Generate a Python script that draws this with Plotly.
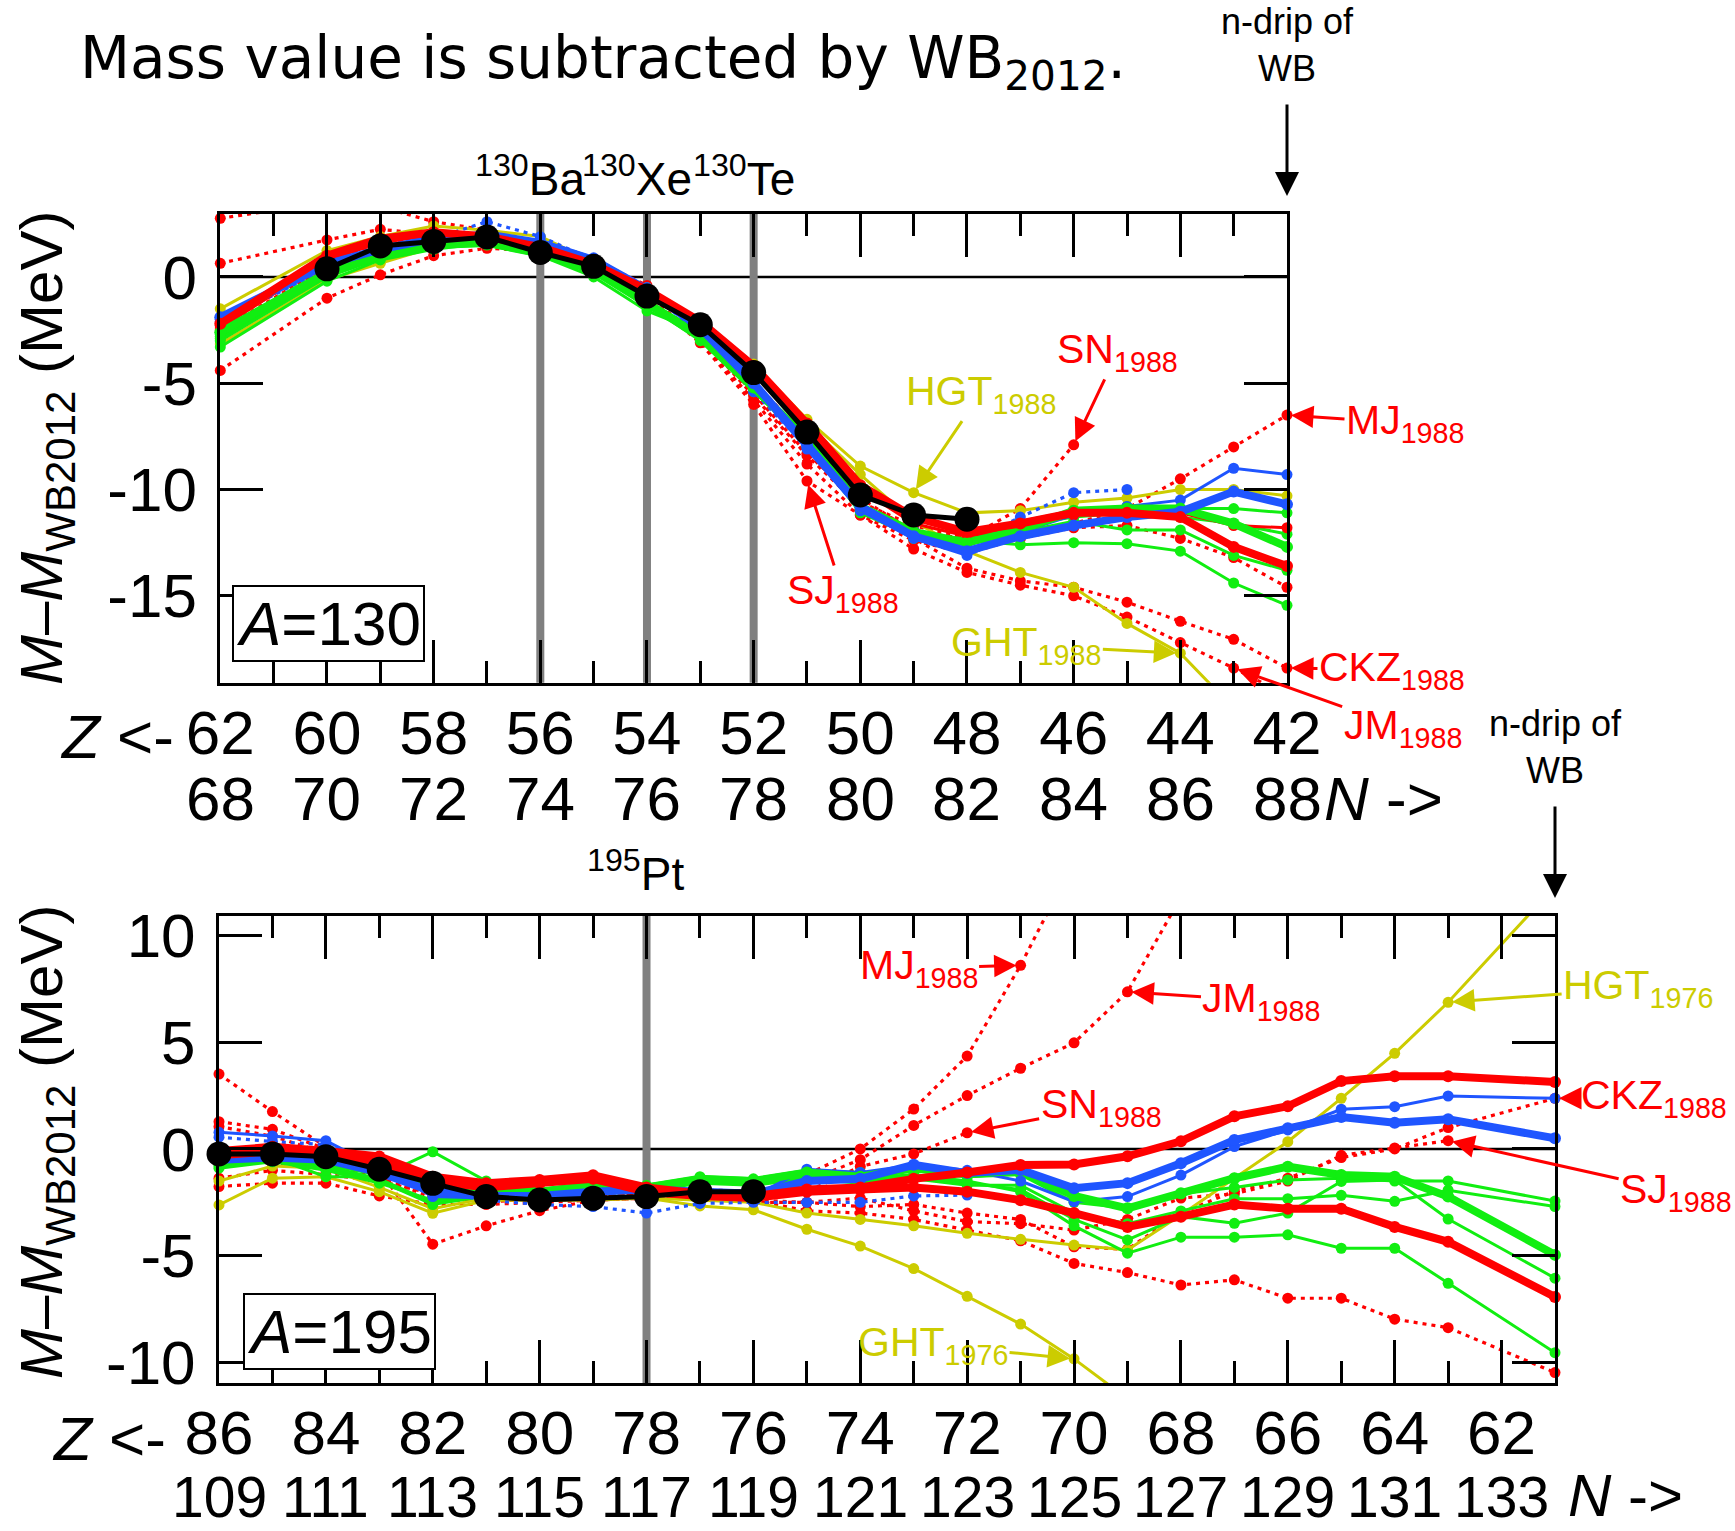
import plotly.graph_objects as go

FONT = "Liberation Sans, Arial, Helvetica, sans-serif"
TFONT = "DejaVu Sans, Liberation Sans, sans-serif"
RED = "#ff0000"
BLUE = "#1f55ff"
GREEN = "#11ee11"
YEL = "#cccc00"
GRAY = "#808080"

# ---------------- A = 130 (x = proton number Z) ----------------
Z130 = [62, 60, 59, 58, 57, 56, 55, 54, 53, 52, 51, 50, 49, 48, 47, 46, 45, 44, 43, 42]
Z130_TICKS = [62, 60, 58, 56, 54, 52, 50, 48, 46, 44, 42]
Z130_LABELS = ["62", "60", "58", "56", "54", "52", "50", "48", "46", "44", "42"]
N130_LABELS = ["68", "70", "72", "74", "76", "78", "80", "82", "84", "86", "88"]
Y130_TICKS = [-15, -10, -5, 0]
Y130_LABELS = ["-15", "-10", "-5", "0"]
Z130_MARKED = [56, 54, 52]
MARKED130_NAMES = ["Ba", "Xe", "Te"]

a130_exp = [None, 0.38, 1.46, 1.67, 1.88, 1.15, 0.5, -0.9, -2.25, -4.5, -7.3, -10.26, -11.2, -11.4, None, None, None, None, None, None]
a130_red_thick = [-2.2, 1.0, 1.8, 2.1, 1.9, 1.4, 0.6, -0.6, -2.1, -4.2, -6.9, -9.8, -11.3, -12.0, -11.6, -11.1, -11.1, -11.3, -12.7, -13.6]
a130_red_thin = [-2.4, 0.8, 1.6, 2.0, 1.9, 1.3, 0.6, -0.8, -2.3, -4.4, -7.0, -10.0, -11.6, -12.2, -11.8, -11.2, -11.0, -11.1, -11.7, -11.8]
a130_blue_thick = [-1.9, 0.6, 1.3, 1.8, 2.0, 1.6, 0.8, -0.6, -2.4, -5.0, -7.9, -10.8, -12.2, -12.9, -12.2, -11.7, -11.3, -11.05, -10.1, -10.7]
a130_blue_thin = [-2.0, 0.5, 1.2, 1.7, 2.0, 1.7, 0.9, -0.5, -2.3, -5.2, -8.1, -11.0, -12.3, -13.1, -12.0, -11.2, -10.8, -10.5, -9.0, -9.3]
a130_blue_dot = [-2.1, 0.4, 1.0, 1.8, 2.6, 1.9, 0.8, -0.7, -2.6, -5.4, -8.0, -10.7, -11.9, -12.5, -11.3, -10.15, -10.0, None, None, None]
a130_green_thick = [-2.6, 0.2, 1.0, 1.5, 1.6, 1.1, 0.3, -1.2, -2.8, -5.2, -7.6, -10.8, -12.0, -12.5, -11.9, -11.0, -10.9, -10.9, -11.6, -12.7]
a130_green_a = [-2.8, 0.0, 0.9, 1.4, 1.5, 1.0, 0.0, -1.6, -2.6, -5.0, -7.8, -11.1, -12.2, -12.3, -11.5, -11.0, -10.8, -10.9, -10.9, -11.1]
a130_green_b = [-3.3, -0.2, 0.8, 1.3, 1.6, 1.2, 0.2, -1.3, -3.0, -5.4, -7.7, -11.0, -12.1, -12.4, -11.7, -11.3, -11.1, -11.3, -11.6, -12.1]
a130_green_c = [-2.9, 0.1, 1.1, 1.5, 1.7, 1.2, 0.4, -1.1, -2.6, -5.1, -8.0, -10.9, -12.3, -12.6, -12.0, -11.5, -11.9, -11.9, -13.1, -13.8]
a130_green_d = [-3.0, 0.0, 0.9, 1.4, 1.6, 1.0, 0.3, -1.4, -2.7, -5.3, -7.9, -10.7, -12.1, -12.4, -12.6, -12.5, -12.55, -12.9, -14.4, -15.45]
a130_hgt1988 = [-1.5, 1.24, 1.9, 2.4, 2.2, 1.9, 0.7, -0.5, -2.2, -4.1, -6.7, -8.9, -10.15, -11.1, -11.0, -10.6, -10.4, -10.0, -10.0, -10.3]
a130_ght1988 = [-3.15, -0.14, 0.64, 1.4, 1.7, 1.7, 0.6, -0.8, -2.4, -4.5, -6.9, -9.3, -11.5, -12.9, -13.9, -14.6, -16.3, -17.7, -20.3, None]
a130_mj1988 = [2.76, 3.5, 3.3, 2.6, 2.2, 1.6, 0.8, -0.4, -2.6, -5.5, -8.3, -10.6, -11.7, -12.3, -12.0, -11.6, -10.9, -9.5, -8.0, -6.5]
a130_ckz1988 = [0.64, 1.74, 2.24, 2.0, 1.8, 1.3, 0.5, -0.9, -2.8, -5.6, -8.4, -10.8, -12.3, -13.7, -14.3, -14.6, -15.3, -16.2, -17.05, -18.4]
a130_jm1988 = [-4.4, -1.0, 0.1, 1.0, 1.35, 1.2, 0.3, -1.0, -3.0, -5.8, -8.8, -11.2, -12.8, -13.9, -14.5, -15.0, -16.0, -17.2, -18.4, -19.7]
a130_sn1988 = [-2.5, 0.5, 1.4, 1.9, 2.0, 1.4, 0.5, -0.8, -2.4, -4.9, -7.6, -10.4, -12.0, -12.3, -10.9, -7.9, None, None, None, None]
a130_sj1988 = [-2.3, 0.7, 1.5, 1.9, 1.8, 1.2, 0.4, -1.0, -3.1, -6.0, -9.6, -11.2, -12.4, -13.0, -12.3, -11.8, -11.7, -12.3, -13.2, -14.6]

# ---------------- A = 195 ----------------
Z195 = [86, 85, 84, 83, 82, 81, 80, 79, 78, 77, 76, 75, 74, 73, 72, 71, 70, 69, 68, 67, 66, 65, 64, 63, 61]
Z195_TICKS = [86, 84, 82, 80, 78, 76, 74, 72, 70, 68, 66, 64, 62]
Z195_LABELS = ["86", "84", "82", "80", "78", "76", "74", "72", "70", "68", "66", "64", "62"]
N195_LABELS = ["109", "111", "113", "115", "117", "119", "121", "123", "125", "127", "129", "131", "133"]
Y195_TICKS = [-10, -5, 0, 5, 10]
Y195_LABELS = ["-10", "-5", "0", "5", "10"]
Z195_MARKED = [78]
MARKED195_NAMES = ["Pt"]

a195_exp = [-0.23, -0.23, -0.36, -0.95, -1.61, -2.23, -2.39, -2.31, -2.23, -2.0, -2.0] + [None] * 14
a195_red_thick_up = [-0.1, 0.1, -0.1, -0.35, -1.3, -1.6, -1.45, -1.23, -1.8, -2.1, -2.2, -1.9, -1.8, -1.4, -1.1, -0.75, -0.73, -0.34, 0.36, 1.53, 2.0, 3.18, 3.4, 3.4, 3.14]
a195_red_thick_lo = [-0.3, -0.1, -0.3, -0.6, -1.5, -1.8, -1.6, -1.4, -2.0, -2.2, -2.3, -2.0, -1.9, -1.8, -2.0, -2.4, -3.0, -3.65, -3.17, -2.6, -2.8, -2.8, -3.65, -4.35, -6.93]
a195_blue_thick = [-0.5, -0.4, -0.5, -1.1, -2.0, -2.2, -2.2, -2.0, -1.9, -2.0, -2.1, -1.5, -1.4, -0.74, -1.13, -0.98, -1.84, -1.6, -0.67, 0.42, 0.97, 1.5, 1.23, 1.39, 0.5]
a195_blue_thin = [0.78, 0.61, 0.39, -0.9, -2.23, -2.3, -2.2, -2.1, -1.95, -2.1, -2.2, -0.95, -1.1, -0.75, -1.0, -1.5, -2.47, -2.23, -1.22, 0.11, 0.89, 1.86, 1.98, 2.48, 2.37]
a195_blue_dot = [0.55, 0.35, 0.2, -0.8, -2.0, -2.4, -2.6, -2.7, -3.0, -2.55, -2.5, -2.5, -2.5, -2.2, -2.16] + [None] * 10
a195_green_thick = [-0.5, -0.3, -0.6, -1.1, -1.6, -1.9, -2.0, -1.7, -1.8, -1.4, -1.5, -1.1, -1.3, -0.9, -1.2, -1.0, -2.2, -2.78, -2.07, -1.37, -0.83, -1.22, -1.3, -2.23, -4.96]
a195_green_a = [-0.6, -0.4, -1.3, -1.3, -0.13, -1.5, -1.9, -1.6, -1.7, -1.3, -1.4, -1.0, -1.1, -1.0, -1.3, -1.2, -2.5, -2.78, -2.1, -1.8, -1.45, -1.37, -1.5, -1.5, -2.44]
a195_green_b = [-0.8, -0.5, -0.9, -1.5, -2.6, -2.2, -2.4, -2.1, -2.0, -1.6, -1.7, -1.4, -1.6, -1.4, -1.7, -1.7, -3.0, -3.5, -2.9, -2.33, -2.33, -2.17, -2.45, -1.93, -2.7]
a195_green_c = [-0.9, -0.6, -1.0, -1.6, -2.4, -2.0, -2.2, -1.9, -1.9, -1.5, -1.6, -1.3, -1.5, -1.3, -1.6, -1.9, -3.3, -4.26, -3.17, -3.48, -3.0, -1.52, -1.45, -3.28, -6.05]
a195_green_d = [-0.7, -0.5, -0.8, -1.4, -2.5, -2.1, -2.3, -2.0, -1.9, -1.5, -1.6, -1.2, -1.4, -1.2, -1.5, -2.0, -3.6, -4.88, -4.13, -4.13, -4.02, -4.65, -4.65, -6.29, -9.54]
a195_hgt1976 = [-1.5, -0.8, -0.9, -1.8, -2.8, -2.3, -2.3, -2.3, -2.3, -2.4, -2.5, -3.0, -3.3, -3.6, -3.95, -4.23, -4.5, -4.73, -3.09, -1.37, 0.34, 2.37, 4.48, 6.87, 12.3]
a195_ght1976 = [-2.62, -1.37, -1.3, -2.0, -3.01, -2.4, -2.4, -2.4, -2.3, -2.67, -2.85, -3.76, -4.55, -5.6, -6.9, -8.2, -9.83, -11.7] + [None] * 7
a195_mj1988 = [3.51, 1.75, 0.1, -1.0, -4.46, -3.6, -2.89, -2.4, -2.3, -2.3, -2.3, -1.2, 0.0, 1.87, 4.35, 8.6, 13.5] + [None] * 8
a195_jm1988 = [1.28, 0.92, 0.0, -0.8, -2.0, -2.3, -2.4, -2.2, -2.1, -1.9, -2.0, -1.5, -0.5, 1.1, 2.5, 3.78, 4.97, 7.36, 11.8] + [None] * 6
a195_sn1988 = [1.05, 0.6, -0.2, -1.0, -2.2, -2.3, -2.3, -2.2, -2.2, -2.1, -2.3, -2.0, -0.82, -0.23, 0.76] + [None] * 10
a195_ckz1988 = [-0.2, -0.7, -0.9, -1.3, -2.3, -2.5, -2.3, -2.2, -2.1, -2.2, -2.5, -2.5, -2.7, -2.6, -3.0, -3.3, -4.58, -4.7, -3.0, -1.98, -1.37, -0.4, 0.0, 1.0, 2.37]
a195_sj1988 = [-1.37, -1.0, -1.2, -1.5, -2.1, -2.2, -2.0, -1.9, -2.0, -2.2, -2.4, -2.5, -2.3, -2.9, -3.4, -3.5, -3.8, -3.3, -2.3, -2.1, -1.5, -0.3, 0.05, 0.39, None]
a195_low_dot = [-1.76, -1.6, -1.6, -2.2, -2.6, -2.6, -2.5, -2.4, -2.3, -2.3, -2.4, -2.9, -3.0, -3.3, -3.8, -4.3, -5.36, -5.79, -6.37, -6.13, -6.99, -6.99, -7.97, -8.37, -10.47]

# ranges
X130_RANGE = [62, 42]
Y130_RANGE = [-19.09, 2.98]
X195_RANGE = [86, 61]
Y195_RANGE = [-10.96, 10.91]

DOT = "4px,5px"
S_THICK, S_THIN, S_DOT = ("thick", "thin", "dot")

series130 = [
    (a130_mj1988, RED, S_DOT), (a130_ckz1988, RED, S_DOT), (a130_jm1988, RED, S_DOT),
    (a130_sn1988, RED, S_DOT), (a130_sj1988, RED, S_DOT),
    (a130_hgt1988, YEL, S_THIN), (a130_ght1988, YEL, S_THIN),
    (a130_green_a, GREEN, S_THIN), (a130_green_b, GREEN, S_THIN), (a130_green_c, GREEN, S_THIN), (a130_green_d, GREEN, S_THIN),
    (a130_blue_dot, BLUE, S_DOT), (a130_blue_thin, BLUE, S_THIN), (a130_red_thin, RED, S_THIN),
    (a130_green_thick, GREEN, S_THICK), (a130_blue_thick, BLUE, S_THICK), (a130_red_thick, RED, S_THICK),
]
series195 = [
    (a195_mj1988, RED, S_DOT), (a195_jm1988, RED, S_DOT), (a195_sn1988, RED, S_DOT),
    (a195_ckz1988, RED, S_DOT), (a195_sj1988, RED, S_DOT), (a195_low_dot, RED, S_DOT),
    (a195_hgt1976, YEL, S_THIN), (a195_ght1976, YEL, S_THIN),
    (a195_green_a, GREEN, S_THIN), (a195_green_b, GREEN, S_THIN), (a195_green_c, GREEN, S_THIN), (a195_green_d, GREEN, S_THIN),
    (a195_blue_dot, BLUE, S_DOT), (a195_blue_thin, BLUE, S_THIN),
    (a195_green_thick, GREEN, S_THICK), (a195_blue_thick, BLUE, S_THICK),
    (a195_red_thick_lo, RED, S_THICK), (a195_red_thick_up, RED, S_THICK),
]

STYLE = {S_THICK: dict(width=8, dash="solid", ms=12),
         S_THIN: dict(width=3, dash="solid", ms=11),
         S_DOT: dict(width=3.2, dash=DOT, ms=11)}

fig = go.Figure()


def add(xs, ys, color, kind, xa, ya, yr, ms=None, width=None):
    st = STYLE.get(kind, dict(width=width, dash="solid", ms=ms))
    m = ms if ms is not None else st["ms"]
    w = width if width is not None else st["width"]
    sizes = [m if (v is not None and yr[0] <= v <= yr[1]) else 0 for v in ys]
    fig.add_trace(go.Scatter(
        x=xs, y=ys, mode="lines+markers", xaxis=xa, yaxis=ya,
        line=dict(color=color, width=w, dash=st["dash"]),
        marker=dict(color=color, size=sizes, opacity=1, line=dict(width=0)),
        cliponaxis=False, connectgaps=False, hoverinfo="skip", showlegend=False))


for ys, c, k in series130:
    add(Z130, ys, c, k, "x", "y", Y130_RANGE)
add(Z130, a130_exp, "black", "exp", "x", "y", Y130_RANGE, ms=25, width=5)

for ys, c, k in series195:
    add(Z195, ys, c, k, "x2", "y2", Y195_RANGE)
add(Z195, a195_exp, "black", "exp", "x2", "y2", Y195_RANGE, ms=25, width=5)

W, H = 1735, 1531
X1D = [220.3 / W, 1287 / W]
Y1D = [1 - 682.7 / H, 1 - 213.6 / H]
X2D = [219 / W, 1555 / W]
Y2D = [1 - 1383 / H, 1 - 916 / H]

tickfont = dict(family=FONT, size=62, color="black")
minor = dict(ticks="inside", ticklen=22, tickwidth=2.5, tickcolor="black", tickmode="linear", dtick=1, tick0=0)


def xaxis(dom, rng, tv, tt, anchor):
    return dict(domain=dom, range=rng, anchor=anchor, tickmode="array", tickvals=tv, ticktext=tt,
                ticks="inside", ticklen=43, tickwidth=2.5, tickcolor="black", minor=minor,
                showline=True, linewidth=3, linecolor="black", mirror="ticks", automargin=False,
                showgrid=False, zeroline=False, tickfont=tickfont, ticklabelstandoff=-6)


def yaxis(dom, rng, tv, tt, anchor):
    return dict(domain=dom, range=rng, anchor=anchor, tickmode="array", tickvals=tv, ticktext=tt,
                ticks="inside", ticklen=43, tickwidth=2.5, tickcolor="black", automargin=False,
                showline=True, linewidth=3, linecolor="black", mirror="ticks",
                showgrid=False, zeroline=False, tickfont=tickfont, ticklabelstandoff=8)


fig.update_layout(
    width=W, height=H, margin=dict(l=0, r=0, t=0, b=0, autoexpand=False),
    paper_bgcolor="white", plot_bgcolor="white", showlegend=False,
    xaxis=xaxis(X1D, X130_RANGE, Z130_TICKS, Z130_LABELS, "y"),
    yaxis=yaxis(Y1D, Y130_RANGE, Y130_TICKS, Y130_LABELS, "x"),
    xaxis2=xaxis(X2D, X195_RANGE, Z195_TICKS, Z195_LABELS, "y2"),
    yaxis2=yaxis(Y2D, Y195_RANGE, Y195_TICKS, Y195_LABELS, "x2"),
)

# zero reference lines, then gray marker lines for the double-beta nuclei on top of them
for xr, yr in [("x domain", "y"), ("x2 domain", "y2")]:
    fig.add_shape(type="line", xref=xr, yref=yr, x0=0, x1=1, y0=0, y1=0,
                  line=dict(color="black", width=2.5), layer="below")
for zv in Z130_MARKED:
    fig.add_shape(type="line", xref="x", yref="y domain", x0=zv, x1=zv, y0=0, y1=1,
                  line=dict(color=GRAY, width=8), layer="below")
for zv in Z195_MARKED:
    fig.add_shape(type="line", xref="x2", yref="y2 domain", x0=zv, x1=zv, y0=0, y1=1,
                  line=dict(color=GRAY, width=8), layer="below")

ann = []


def px(xp):
    return xp / W


def py(yp):
    return 1 - yp / H


def txt(text, x, y, size, color="black", xanchor="center", yanchor="middle", xref="paper", yref="paper",
        angle=0, xshift=0, family=FONT, **kw):
    d = dict(text=text, x=x, y=y, xref=xref, yref=yref, showarrow=False, xanchor=xanchor, yanchor=yanchor,
             font=dict(family=family, size=size, color=color), textangle=angle, xshift=xshift)
    d.update(kw)
    ann.append(d)


txt("Mass value is subtracted by WB<sub>2012</sub>.", px(78), py(62), 58, xanchor="left", family=TFONT)

# N (neutron number) labels under the Z tick labels, placed on the Z axes
for zv, nl in zip(Z130_TICKS, N130_LABELS):
    txt(nl, zv, py(799), 62, xref="x")
for zv, nl in zip(Z195_TICKS, N195_LABELS):
    txt(nl, zv, 0.0, 57, xref="x2", yanchor="bottom")

# isotope labels
for zv, nm in zip(Z130_MARKED, MARKED130_NAMES):
    txt("<sup>130</sup>" + nm, zv, py(207), 46, xref="x", yanchor="bottom", xshift=-10)
for zv, nm in zip(Z195_MARKED, MARKED195_NAMES):
    txt("<sup>195</sup>" + nm, zv, py(902), 46, xref="x2", yanchor="bottom", xshift=-11)

# y titles
ytitle = "<i>M</i>–<i>M</i><sub>WB2012</sub> (MeV)"
txt(ytitle, px(46), py(448), 60, angle=-90)
txt(ytitle, px(46), py(1142), 60, angle=-90)

# Z / N arrows on the axes
txt("<i>Z</i> &lt;-", px(176), py(736), 62, xanchor="right")
txt("<i>N</i> -&gt;", px(1322), py(799), 62, xanchor="left")
txt("<i>Z</i> &lt;-", px(168), py(1438), 62, xanchor="right")
txt("<i>N</i> -&gt;", px(1566), 0.0, 60, xanchor="left", yanchor="bottom")

# A boxes
txt("<i>A</i>=130", px(328), py(623), 62, bordercolor="black", borderwidth=2, borderpad=2, bgcolor="white")
txt("<i>A</i>=195", px(339), py(1331), 62, bordercolor="black", borderwidth=2, borderpad=2, bgcolor="white")

# n-drip arrows
for xr, xv, yv in [("x", 42, py(196)), ("x2", 61, py(898))]:
    ann.append(dict(text="n-drip of<br>WB", x=xv, y=yv, xref=xr, yref="paper", showarrow=True,
                    ax=0, ay=-151, arrowhead=2, arrowsize=1.6, arrowwidth=3, arrowcolor="black",
                    startstandoff=14, font=dict(family=FONT, size=36, color="black")))


def lab(text, color, xr, yr, xv, yv, ax, ay):
    ann.append(dict(text=text, x=xv, y=yv, xref=xr, yref=yr, showarrow=True, ax=ax, ay=ay,
                    arrowhead=2, arrowsize=1.5, arrowwidth=3, arrowcolor=color, standoff=4,
                    font=dict(family=FONT, size=41, color=color)))


lab("MJ<sub>1988</sub>", RED, "x", "y", 42, -6.5, 118, 8)
lab("CKZ<sub>1988</sub>", RED, "x", "y", 42, -18.4, 105, 2)
lab("JM<sub>1988</sub>", RED, "x", "y", 43, -18.4, 169, 60)
lab("SN<sub>1988</sub>", RED, "x", "y", 46, -7.9, 44, -93)
lab("HGT<sub>1988</sub>", YEL, "x", "y", 49, -10.15, 67, -99)
lab("SJ<sub>1988</sub>", RED, "x", "y", 51, -9.6, 36, 112)
lab("GHT<sub>1988</sub>", YEL, "x", "y", 44, -17.7, -154, -8)

lab("MJ<sub>1988</sub>", RED, "x2", "y2", 71, 8.6, -102, 3)
lab("JM<sub>1988</sub>", RED, "x2", "y2", 69, 7.36, 134, 9)
lab("SN<sub>1988</sub>", RED, "x2", "y2", 72, 0.76, 134, -26)
lab("HGT<sub>1976</sub>", YEL, "x2", "y2", 63, 6.87, 190, -14)
lab("CKZ<sub>1988</sub>", RED, "x2", "y2", 61, 2.37, 99, 0)
lab("SJ<sub>1988</sub>", RED, "x2", "y2", 63, 0.39, 228, 51)
lab("GHT<sub>1976</sub>", YEL, "x2", "y2", 70, -9.83, -141, -14)

fig.update_layout(annotations=ann)
fig.write_html("out.html")
